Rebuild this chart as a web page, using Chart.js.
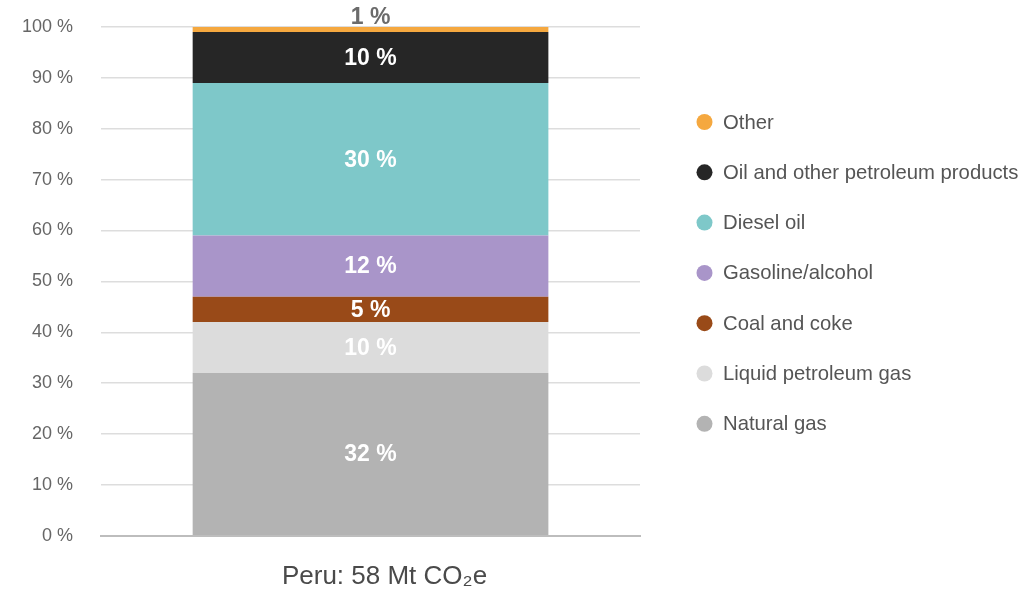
<!DOCTYPE html>
<html>
<head>
<meta charset="utf-8">
<script src="https://cdn.jsdelivr.net/npm/chart.js@4.4.1/dist/chart.umd.min.js"></script>
<style>
  html, body { margin: 0; padding: 0; background: #ffffff; }
  #wrap { width: 1023px; height: 589px; position: relative; }
</style>
</head>
<body>
<div id="wrap"><canvas id="chart"></canvas></div>
<script>
// Emission shares by fuel, stacked bottom to top
const categories = ['Peru: 58 Mt CO\u2082e'];
const seriesNames = [
  'Natural gas',
  'Liquid petroleum gas',
  'Coal and coke',
  'Gasoline/alcohol',
  'Diesel oil',
  'Oil and other petroleum products',
  'Other'
];
const seriesValues = [32, 10, 5, 12, 30, 10, 1];
const seriesColors = ['#b3b3b3', '#dcdcdc', '#994a18', '#a995c9', '#7ec8c9', '#262626', '#f5a83f'];
const yTickValues = [0, 10, 20, 30, 40, 50, 60, 70, 80, 90, 100];

const FONT = '"Liberation Sans", Arial, Helvetica, sans-serif';

const datasets = seriesNames.map((name, i) => ({
  label: name,
  data: [seriesValues[i]],
  backgroundColor: seriesColors[i],
  borderWidth: 0,
  barPercentage: 0.66,
  categoryPercentage: 1.0
}));

// Value labels centred in each segment; the thin top segment gets its label above the bar
const segmentLabels = {
  id: 'segmentLabels',
  afterDatasetsDraw(chart) {
    const ctx = chart.ctx;
    ctx.save();
    ctx.font = 'bold 23px ' + FONT;
    ctx.textAlign = 'center';
    ctx.textBaseline = 'middle';
    const last = chart.data.datasets.length - 1;
    chart.data.datasets.forEach((ds, i) => {
      const meta = chart.getDatasetMeta(i);
      meta.data.forEach((el, j) => {
        const text = ds.data[j] + ' %';
        if (i === last) {
          ctx.fillStyle = '#6b6b6b';
          ctx.fillText(text, el.x, el.y - 9);
        } else {
          ctx.fillStyle = '#ffffff';
          ctx.fillText(text, el.x, (el.y + el.base) / 2 + 1);
        }
      });
    });
    ctx.restore();
  }
};

// Legend column on the right, listed top segment first
const sideLegend = {
  id: 'sideLegend',
  afterDraw(chart) {
    const ctx = chart.ctx;
    ctx.save();
    ctx.font = '20.3px ' + FONT;
    ctx.textAlign = 'left';
    ctx.textBaseline = 'middle';
    const items = chart.data.datasets.slice().reverse();
    items.forEach((ds, k) => {
      const y = 122 + k * 50.3;
      ctx.fillStyle = ds.backgroundColor;
      ctx.beginPath();
      ctx.arc(704.5, y, 8, 0, Math.PI * 2);
      ctx.fill();
      ctx.fillStyle = '#555555';
      ctx.fillText(ds.label, 723, y + 1);
    });
    ctx.restore();
  }
};

new Chart(document.getElementById('chart'), {
  type: 'bar',
  data: { labels: categories, datasets: datasets },
  options: {
    responsive: true,
    maintainAspectRatio: false,
    animation: false,
    layout: { padding: { left: 22, right: 383, top: 27, bottom: -3 } },
    plugins: {
      legend: { display: false },
      tooltip: { enabled: false }
    },
    scales: {
      x: {
        stacked: true,
        grid: {
          display: true,
          drawOnChartArea: false,
          drawTicks: true,
          tickLength: 25,
          tickColor: 'rgba(0,0,0,0)'
        },
        border: { display: true, color: '#bdbdbd', width: 2 },
        ticks: {
          color: '#4a4a4a',
          padding: 0,
          labelOffset: 14,
          font: { family: FONT, size: 26 }
        }
      },
      y: {
        stacked: true,
        min: 0,
        max: 100,
        afterBuildTicks(scale) {
          scale.ticks = yTickValues.map(v => ({ value: v }));
        },
        grid: {
          drawTicks: true,
          tickLength: 28,
          tickColor: 'rgba(0,0,0,0)',
          color: ctx => (ctx.tick && ctx.tick.value === 0) ? 'rgba(0,0,0,0)' : '#dddddd',
          lineWidth: 1.5
        },
        border: { display: false },
        ticks: {
          color: '#666666',
          padding: 0,
          font: { family: FONT, size: 18 },
          callback: v => v + ' %'
        }
      }
    }
  },
  plugins: [segmentLabels, sideLegend]
});
</script>
</body>
</html>
